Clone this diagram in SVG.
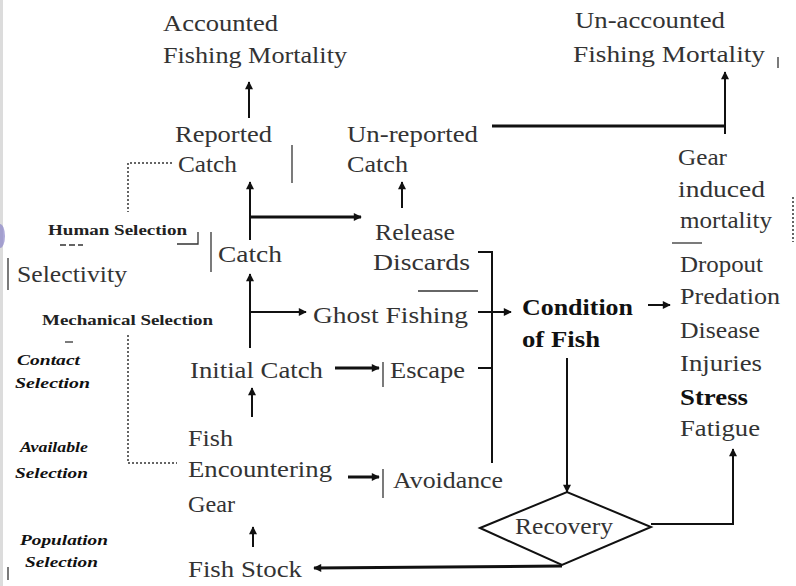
<svg xmlns="http://www.w3.org/2000/svg" width="796" height="586" viewBox="0 0 796 586">
<defs>
<marker id="ah" viewBox="0 0 10 10" refX="9" refY="5" markerWidth="9" markerHeight="8" markerUnits="userSpaceOnUse" orient="auto">
<path d="M0,0 L10,5 L0,10 z" fill="#111"/>
</marker>
<style>
text{font-family:"Liberation Serif","Times New Roman",serif;fill:#333;}
.t{font-size:23px;}
.b{font-size:23px;font-weight:bold;fill:#111;}
.s{font-size:14px;font-weight:bold;fill:#222;}
.i{font-size:14px;font-weight:bold;font-style:italic;fill:#111;}
.ln{stroke:#111;stroke-width:2;fill:none;}
.thk{stroke:#111;stroke-width:3;fill:none;}
.thin{stroke:#333;stroke-width:1.3;fill:none;}
.dot{stroke:#333;stroke-width:1.5;fill:none;stroke-dasharray:2 2;}
.arr{marker-end:url(#ah);}
</style>
</defs>
<rect x="0" y="0" width="796" height="586" fill="#fff"/>
<rect x="0" y="0" width="3" height="586" fill="#dcdcdc"/>
<ellipse cx="0" cy="236" rx="5" ry="12" fill="#8a84c8" opacity="0.7"/>

<g id="connectors">
<line class="ln arr" x1="249" y1="118" x2="249" y2="82"/>
<line class="ln arr" x1="250" y1="240" x2="250" y2="182"/>
<line class="thk arr" x1="250" y1="217" x2="361" y2="217"/>
<line class="ln arr" x1="402" y1="208" x2="402" y2="182"/>
<polyline class="thk" points="492,126 725,126"/>
<line class="ln arr" x1="725" y1="134" x2="725" y2="72"/>
<line class="ln arr" x1="250" y1="348" x2="250" y2="274"/>
<line class="ln arr" x1="250" y1="312" x2="306" y2="312"/>
<line class="ln arr" x1="478" y1="312" x2="511" y2="312"/>
<polyline class="ln" points="478,252 492,252 492,463"/>
<line class="ln" x1="478" y1="368" x2="492" y2="368"/>
<line class="thin" x1="418" y1="291" x2="478" y2="291"/>
<line class="thk arr" x1="335" y1="368" x2="379" y2="368"/>
<line class="thin" x1="383" y1="362" x2="383" y2="387"/>
<line class="ln arr" x1="252" y1="417" x2="252" y2="388"/>
<line class="thk arr" x1="348" y1="477" x2="379" y2="477"/>
<line class="thin" x1="383" y1="469" x2="383" y2="498"/>
<line class="ln arr" x1="253" y1="547" x2="253" y2="527"/>
<line class="thk arr" x1="562" y1="566" x2="314" y2="568"/>
<line class="ln arr" x1="567" y1="358" x2="567" y2="492"/>
<polyline class="ln" points="651,524 733,524 733,460"/>
<line class="ln arr" x1="733" y1="470" x2="733" y2="449"/>
<line class="ln arr" x1="648" y1="305" x2="670" y2="305"/>
<polyline class="dot" points="172,163 128,163 128,212"/>
<polyline class="dot" points="128,335 128,463 177,463"/>
<polyline class="thin" points="177,244 198,244 198,232"/>
<line class="thin" x1="60" y1="245" x2="83" y2="245" stroke-dasharray="6 3"/>
<line class="thin" x1="672" y1="243" x2="702" y2="243"/>
<line class="thin" x1="292" y1="145" x2="292" y2="183"/>
<line class="thin" x1="65" y1="342" x2="73" y2="342"/>
<line class="dot" x1="793" y1="197" x2="793" y2="242"/>
<line class="thin" x1="778" y1="57" x2="778" y2="68"/>
</g>

<g id="accounted"><text class="t" x="163" y="31" textLength="115" lengthAdjust="spacingAndGlyphs">Accounted</text><text class="t" x="163" y="63" textLength="184" lengthAdjust="spacingAndGlyphs">Fishing Mortality</text></g>
<g id="unaccounted"><text class="t" x="575" y="28" textLength="150" lengthAdjust="spacingAndGlyphs">Un-accounted</text><text class="t" x="573" y="62" textLength="192" lengthAdjust="spacingAndGlyphs">Fishing Mortality</text></g>
<g id="reported"><text class="t" x="175" y="142" textLength="97" lengthAdjust="spacingAndGlyphs">Reported</text><text class="t" x="178" y="172" textLength="59" lengthAdjust="spacingAndGlyphs">Catch</text></g>
<g id="unreported"><text class="t" x="347" y="142" textLength="131" lengthAdjust="spacingAndGlyphs">Un-reported</text><text class="t" x="347" y="172" textLength="61" lengthAdjust="spacingAndGlyphs">Catch</text></g>
<g id="gear-induced"><text class="t" x="678" y="165" textLength="49" lengthAdjust="spacingAndGlyphs">Gear</text><text class="t" x="678" y="197" textLength="87" lengthAdjust="spacingAndGlyphs">induced</text><text class="t" x="680" y="228" textLength="92" lengthAdjust="spacingAndGlyphs">mortality</text></g>
<g id="human-selection"><text class="s" x="48" y="235" textLength="139" lengthAdjust="spacingAndGlyphs">Human Selection</text></g>
<g id="catch"><line class="thin" x1="211" y1="232" x2="211" y2="272"/><text class="t" x="218" y="262" textLength="64" lengthAdjust="spacingAndGlyphs">Catch</text></g>
<g id="selectivity"><line class="thin" x1="8" y1="258" x2="8" y2="290"/><text class="t" x="17" y="282" textLength="110" lengthAdjust="spacingAndGlyphs">Selectivity</text></g>
<g id="release"><text class="t" x="375" y="240" textLength="80" lengthAdjust="spacingAndGlyphs">Release</text><text class="t" x="373" y="270" textLength="97" lengthAdjust="spacingAndGlyphs">Discards</text></g>
<g id="mechanical-selection"><text class="s" x="42" y="325" textLength="171" lengthAdjust="spacingAndGlyphs">Mechanical Selection</text></g>
<g id="ghost-fishing"><text class="t" x="313" y="323" textLength="155" lengthAdjust="spacingAndGlyphs">Ghost Fishing</text></g>
<g id="condition"><text class="b" x="522" y="315" textLength="111" lengthAdjust="spacingAndGlyphs">Condition</text><text class="b" x="522" y="347" textLength="78" lengthAdjust="spacingAndGlyphs">of Fish</text></g>
<g id="effects"><text class="t" x="680" y="272" textLength="83" lengthAdjust="spacingAndGlyphs">Dropout</text><text class="t" x="680" y="304" textLength="100" lengthAdjust="spacingAndGlyphs">Predation</text><text class="t" x="680" y="338" textLength="80" lengthAdjust="spacingAndGlyphs">Disease</text><text class="t" x="680" y="371" textLength="82" lengthAdjust="spacingAndGlyphs">Injuries</text><text class="b" x="680" y="405" textLength="68" lengthAdjust="spacingAndGlyphs">Stress</text><text class="t" x="680" y="436" textLength="80" lengthAdjust="spacingAndGlyphs">Fatigue</text></g>
<g id="contact-selection"><text class="i" x="17" y="365" textLength="63" lengthAdjust="spacingAndGlyphs">Contact</text><text class="i" x="15" y="388" textLength="75" lengthAdjust="spacingAndGlyphs">Selection</text></g>
<g id="initial-catch"><text class="t" x="190" y="378" textLength="133" lengthAdjust="spacingAndGlyphs">Initial Catch</text></g>
<g id="escape"><text class="t" x="390" y="378" textLength="75" lengthAdjust="spacingAndGlyphs">Escape</text></g>
<g id="encountering"><text class="t" x="188" y="446" textLength="45" lengthAdjust="spacingAndGlyphs">Fish</text><text class="t" x="188" y="477" textLength="144" lengthAdjust="spacingAndGlyphs">Encountering</text><text class="t" x="188" y="512" textLength="47" lengthAdjust="spacingAndGlyphs">Gear</text></g>
<g id="available-selection"><text class="i" x="20" y="452" textLength="68" lengthAdjust="spacingAndGlyphs">Available</text><text class="i" x="15" y="478" textLength="73" lengthAdjust="spacingAndGlyphs">Selection</text></g>
<g id="avoidance"><text class="t" x="393" y="488" textLength="110" lengthAdjust="spacingAndGlyphs">Avoidance</text></g>
<g id="population-selection"><text class="i" x="20" y="545" textLength="88" lengthAdjust="spacingAndGlyphs">Population</text><text class="i" x="25" y="567" textLength="73" lengthAdjust="spacingAndGlyphs">Selection</text><line class="thin" x1="8" y1="567" x2="8" y2="580"/></g>
<g id="fish-stock"><text class="t" x="188" y="577" textLength="114" lengthAdjust="spacingAndGlyphs">Fish Stock</text></g>
<g id="recovery"><polygon points="480,528 567,492 651,527 562,565" fill="none" stroke="#111" stroke-width="2"/><text class="t" x="515" y="534" textLength="98" lengthAdjust="spacingAndGlyphs">Recovery</text></g>
</svg>
